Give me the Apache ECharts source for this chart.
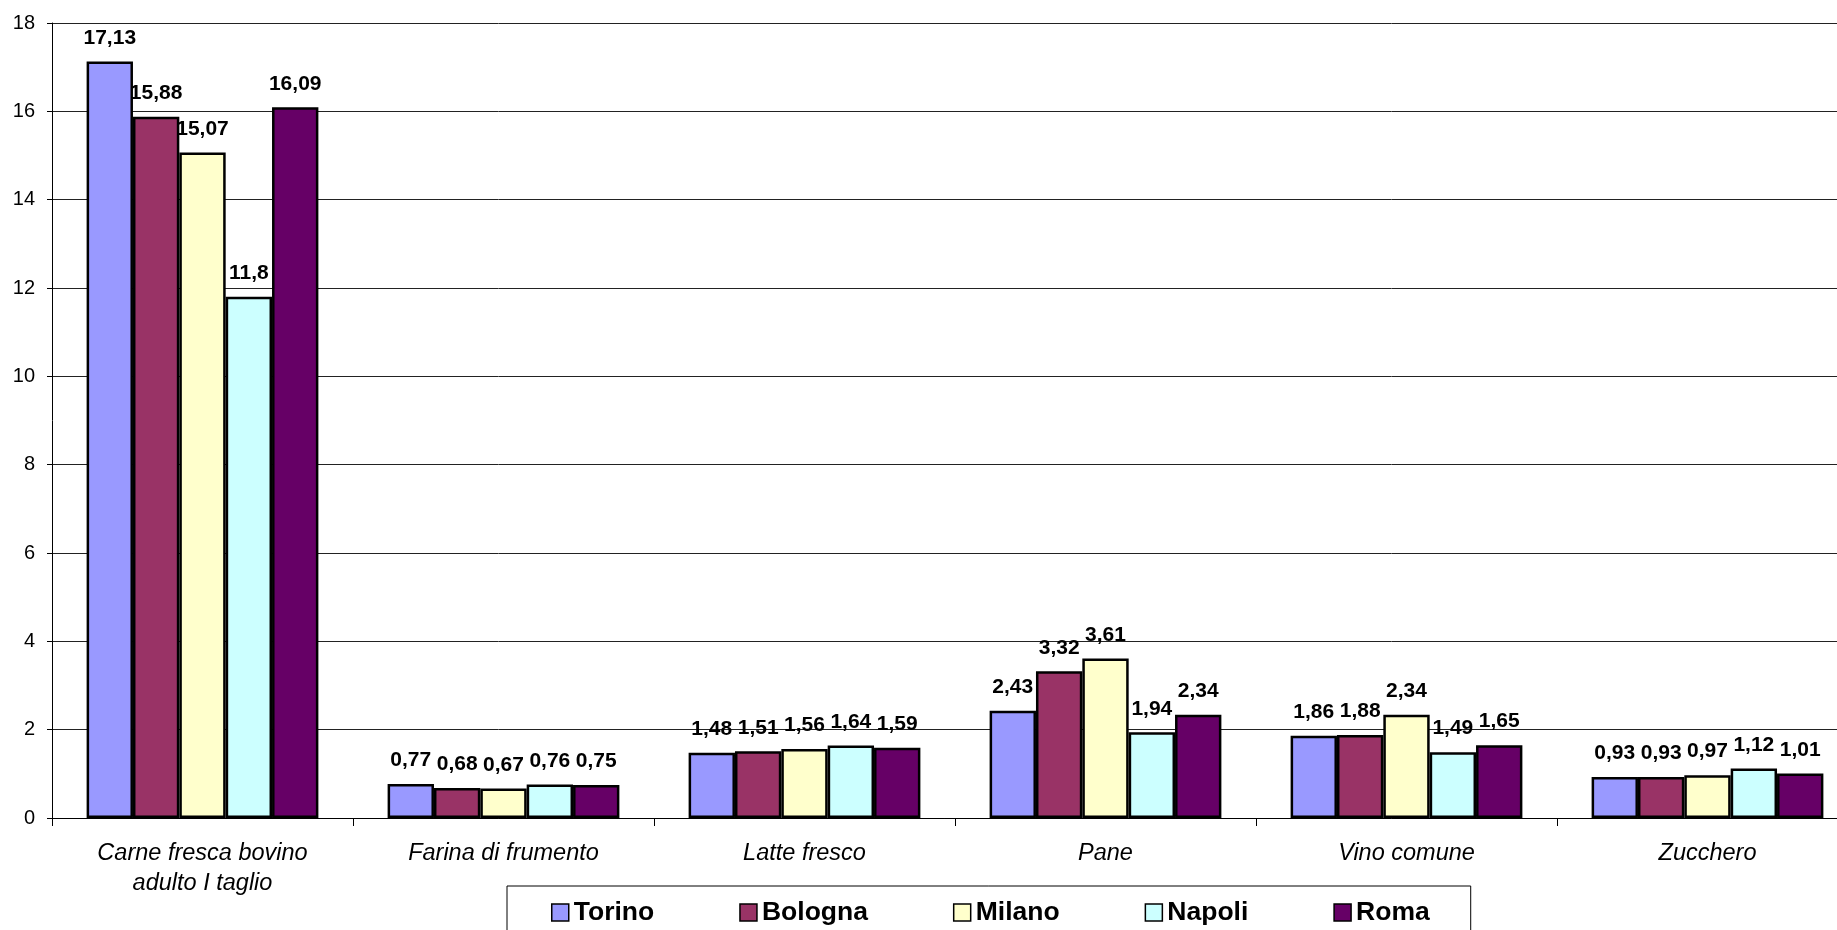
<!DOCTYPE html>
<html>
<head>
<meta charset="utf-8">
<script src="https://cdn.jsdelivr.net/npm/echarts@6/dist/echarts.min.js"></script>
<style>
html,body{margin:0;padding:0;background:#fff;}
#chart{width:1837px;height:930px;}
</style>
</head>
<body>
<div id="chart"></div>
<script>
const categories = ["Carne fresca bovino\nadulto I taglio", "Farina di frumento", "Latte fresco", "Pane", "Vino comune", "Zucchero"];
const seriesNames = ["Torino", "Bologna", "Milano", "Napoli", "Roma"];
const torino  = [17.13, 0.77, 1.48, 2.43, 1.86, 0.93];
const bologna = [15.88, 0.68, 1.51, 3.32, 1.88, 0.93];
const milano  = [15.07, 0.67, 1.56, 3.61, 2.34, 0.97];
const napoli  = [11.8, 0.76, 1.64, 1.94, 1.49, 1.12];
const roma    = [16.09, 0.75, 1.59, 2.34, 1.65, 1.01];
const colors = ["#9999FF", "#993366", "#FFFFCC", "#CCFFFF", "#660066"];
const yTicks = { min: 0, max: 18, interval: 2 };

const FONT = "'Liberation Sans', Arial, sans-serif";
const values = [torino, bologna, milano, napoli, roma];

const chart = echarts.init(document.getElementById('chart'), null, { renderer: 'canvas' });
chart.setOption({
  backgroundColor: '#fff',
  animation: false,
  color: colors,
  grid: { left: 52, right: -21, top: 23, bottom: 112, containLabel: false, outerBoundsMode: 'none' },
  legend: {
    left: 507, top: 886,
    padding: [13, 41, 30, 44],
    itemGap: 85,
    itemWidth: 17, itemHeight: 17,
    icon: 'rect',
    borderColor: '#000', borderWidth: 1,
    itemStyle: { borderColor: '#000', borderWidth: 1.5 },
    textStyle: { fontFamily: FONT, fontSize: 26.5, fontWeight: 'bold', color: '#000' },
    data: seriesNames
  },
  xAxis: {
    type: 'category',
    data: categories,
    axisLine: { lineStyle: { color: '#000', width: 1 } },
    axisTick: { show: true, length: 8, interval: 0, lineStyle: { color: '#000' } },
    axisLabel: { interval: 0, margin: 20, fontFamily: FONT, fontSize: 23.5, fontStyle: 'italic', color: '#000', lineHeight: 30 },
    splitLine: { show: false }
  },
  yAxis: {
    type: 'value',
    min: yTicks.min, max: yTicks.max, interval: yTicks.interval,
    axisLine: { show: true, lineStyle: { color: '#000', width: 1 } },
    axisTick: { show: true, length: 5, lineStyle: { color: '#000' } },
    axisLabel: { margin: 17, fontFamily: FONT, fontSize: 20, color: '#000' },
    splitLine: { show: true, lineStyle: { color: '#222', width: 1 } }
  },
  series: seriesNames.map((name, i) => ({
    name: name,
    type: 'bar',
    data: values[i],
    barGap: '0%',
    barCategoryGap: '23%',
    itemStyle: { color: colors[i], borderColor: '#000', borderWidth: 2.5 },
    label: {
      show: true, position: 'top', distance: 13,
      fontFamily: FONT, fontSize: 21, fontWeight: 'bold', color: '#000',
      formatter: p => String(p.value).replace('.', ',')
    },
    z: 3
  }))
});
</script>
</body>
</html>
